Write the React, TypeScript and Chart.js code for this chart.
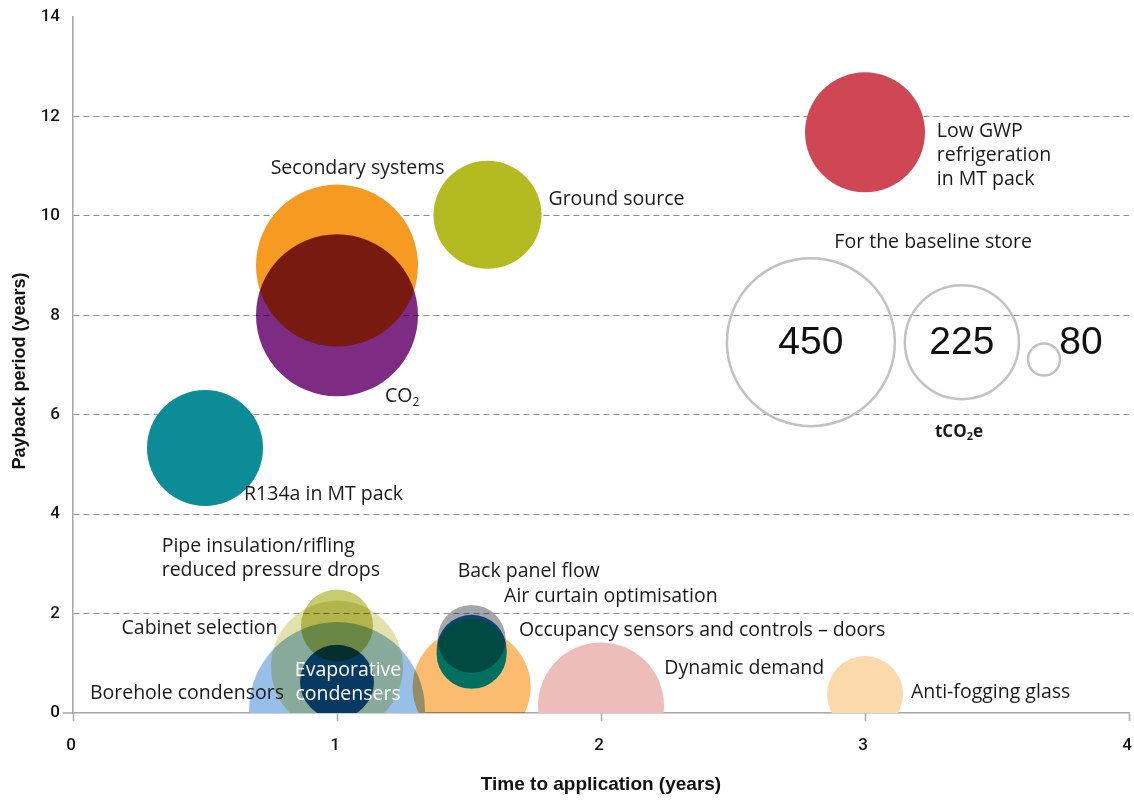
import React, { useEffect, useRef } from "react";
import { Chart, registerables } from "chart.js";

Chart.register(...registerables);

// ---------------- DATA ----------------
const measures = [
  "Low GWP refrigeration in MT pack",
  "Ground source",
  "Secondary systems",
  "CO₂",
  "R134a in MT pack",
  "Borehole condensors",
  "Cabinet selection",
  "Evaporative condensers",
  "Pipe insulation/rifling reduced pressure drops",
  "Occupancy sensors and controls – doors",
  "Air curtain optimisation",
  "Air curtain optimisation (2)",
  "Back panel flow",
  "Dynamic demand",
  "Anti-fogging glass",
];
// Time to application (years)
const timeToApplication = [3.0, 1.57, 1.0, 1.0, 0.5, 1.0, 1.0, 1.0, 1.0, 1.51, 1.51, 1.51, 1.51, 2.0, 3.0];
// Payback period (years)
const paybackPeriod = [11.68, 10.02, 9.0, 8.0, 5.33, 0.06, 0.93, 0.63, 1.76, 0.52, 1.27, 1.19, 1.49, 0.15, 0.38];
// Bubble size (tCO2e impact, drawn as radius)
const bubbleSize = [60, 54, 81, 81, 58, 88, 66, 37, 36, 59, 35, 35, 34, 63, 38];

// Baseline store reference bubbles
const baselineValues = ["450", "225", "80"];
const baselineX = [2.795, 3.367, 3.678];
const baselineY = [7.46, 7.46, 7.11];
const baselineSize = [84, 57, 16];

// Axis ticks
const xTicks = [0, 1, 2, 3, 4];
const yTicks = [0, 2, 4, 6, 8, 10, 12, 14];

// ---------------- STYLES ----------------
const fillColors = [
  "#cf4654", "#b3bb20", "#f69a21", "#7d2b83", "#0b8c97",
  "#98bfe7", "#e2e3aa", "#063a62", "#c9cb72",
  "#fbbc70", "#1466a3", "#007161", "#a3a6ab",
  "#edbeb9", "#fcd9ab",
];
const blendModes = [
  "source-over", "source-over", "source-over", "multiply", "source-over",
  "source-over", "multiply", "source-over", "multiply",
  "multiply", "source-over", "source-over", "multiply",
  "source-over", "source-over",
];

// Text annotations (anchors in data units)
const labelTexts: string[][] = [
  ["Low GWP", "refrigeration", "in MT pack"],
  ["Secondary systems"],
  ["Ground source"],
  ["CO₂"],
  ["R134a in MT pack"],
  ["Pipe insulation/rifling", "reduced pressure drops"],
  ["Cabinet selection"],
  ["Borehole condensors"],
  ["Evaporative", "condensers"],
  ["Back panel flow"],
  ["Air curtain optimisation"],
  ["Occupancy sensors and controls – doors"],
  ["Dynamic demand"],
  ["Anti-fogging glass"],
  ["For the baseline store"],
];
const labelX = [3.272, 1.078, 1.801, 1.182, 0.648, 0.336, 0.184, 0.064, 1.042, 1.457, 1.633, 1.689, 2.24, 3.174, 3.258];
const labelY = [11.7, 10.96, 10.33, 6.36, 4.4, 3.343, 1.703, 0.396, 0.864, 2.84, 2.352, 1.668, 0.898, 0.422, 9.47];
const labelAlign = ["left", "center", "left", "left", "left", "left", "left", "left", "center", "left", "left", "left", "left", "left", "center"];
const labelColor = ["#1a1a1a", "#1a1a1a", "#1a1a1a", "#1a1a1a", "#1a1a1a", "#1a1a1a", "#1a1a1a", "#1a1a1a", "#ffffff", "#1a1a1a", "#1a1a1a", "#1a1a1a", "#1a1a1a", "#1a1a1a", "#1a1a1a"];

const baselineLabelX = [2.795, 3.367, 3.818];
const unitLabel = "tCO₂e";
const unitLabelX = 3.356;
const unitLabelY = 5.654;

const LABEL_FONT = '"Open Sans", "DejaVu Sans", sans-serif';
const NUM_FONT = '"Liberation Sans", Arial, sans-serif';
const TICK_FONT = 'Roboto, "Liberation Sans", Arial, sans-serif';

function drawRich(ctx: CanvasRenderingContext2D, text: string, x: number, y: number, size: number, weight: string, family: string, align: string) {
  const parts = text.split("₂");
  const mainFont = `${weight} ${size}px ${family}`;
  const subSize = Math.round(size * 0.62);
  const subFont = `${weight} ${subSize}px ${family}`;
  const segs: { t: string; sub: boolean }[] = [];
  parts.forEach((p, i) => {
    if (p) segs.push({ t: p, sub: false });
    if (i < parts.length - 1) segs.push({ t: "2", sub: true });
  });
  let total = 0;
  const widths = segs.map((s) => {
    ctx.font = s.sub ? subFont : mainFont;
    const w = ctx.measureText(s.t).width;
    total += w;
    return w;
  });
  let cx = x;
  if (align === "center") cx = x - total / 2;
  else if (align === "right") cx = x - total;
  ctx.textAlign = "left";
  ctx.textBaseline = "middle";
  segs.forEach((s, i) => {
    ctx.font = s.sub ? subFont : mainFont;
    ctx.fillText(s.t, cx, s.sub ? y + size * 0.32 : y);
    cx += widths[i];
  });
}

const blendPlugin = {
  id: "blendPlugin",
  beforeDatasetDraw(chart: any, args: any) {
    const ds = chart.data.datasets[args.index];
    chart.ctx.globalCompositeOperation = ds.blend || "source-over";
  },
  afterDatasetDraw(chart: any) {
    chart.ctx.globalCompositeOperation = "source-over";
  },
};

const annotationPlugin = {
  id: "annotationPlugin",
  afterDraw(chart: any) {
    const { ctx, scales, chartArea } = chart;
    const xs = scales.x;
    const ys = scales.y;
    ctx.save();
    // small extension of x axis line to the left
    ctx.strokeStyle = "#a6a6a6";
    ctx.lineWidth = 1.5;
    ctx.beginPath();
    ctx.moveTo(chartArea.left - 10, chartArea.bottom);
    ctx.lineTo(chartArea.left, chartArea.bottom);
    ctx.stroke();

    labelTexts.forEach((lines, i) => {
      ctx.fillStyle = labelColor[i];
      const px = xs.getPixelForValue(labelX[i]);
      const py = ys.getPixelForValue(labelY[i]);
      lines.forEach((line, j) => {
        drawRich(ctx, line, px, py + j * 24, 19.5, "500", LABEL_FONT, labelAlign[i]);
      });
    });

    // baseline numbers
    ctx.fillStyle = "#111111";
    baselineValues.forEach((v, i) => {
      const px = xs.getPixelForValue(baselineLabelX[i]);
      const py = ys.getPixelForValue(baselineY[0]);
      ctx.font = `400 39px ${NUM_FONT}`;
      ctx.textAlign = "center";
      ctx.textBaseline = "middle";
      ctx.fillText(v, px, py + 1);
    });
    ctx.fillStyle = "#1a1a1a";
    drawRich(ctx, unitLabel, xs.getPixelForValue(unitLabelX), ys.getPixelForValue(unitLabelY), 17, "700", LABEL_FONT, "center");

    // axis titles
    ctx.fillStyle = "#111111";
    ctx.font = `700 19px ${NUM_FONT}`;
    ctx.textAlign = "center";
    ctx.textBaseline = "middle";
    ctx.fillText("Time to application (years)", (chartArea.left + chartArea.right) / 2, 785);
    ctx.save();
    ctx.translate(20, 371);
    ctx.rotate(-Math.PI / 2);
    ctx.font = `700 18px ${NUM_FONT}`;
    ctx.fillText("Payback period (years)", 0, 0);
    ctx.restore();
    ctx.restore();
  },
};

function zeroPad(s: any) {
  s.paddingLeft = 0;
  s.paddingRight = 0;
  s.paddingTop = 0;
  s.paddingBottom = 0;
}

export default function App() {
  const canvasRef = useRef<HTMLCanvasElement | null>(null);

  useEffect(() => {
    document.body.style.margin = "0";
    const canvas = canvasRef.current;
    if (!canvas) return;

    const n = measures.length;
    const datasets: any[] = measures.map((name, i) => ({
      label: name,
      data: [{ x: timeToApplication[i], y: paybackPeriod[i], r: bubbleSize[i] }],
      backgroundColor: fillColors[i],
      borderWidth: 0,
      blend: blendModes[i],
      order: n + 1 - i,
      clip: { left: false, top: false, right: false, bottom: 0 },
    }));
    datasets.push({
      label: "For the baseline store",
      data: baselineValues.map((_, i) => ({ x: baselineX[i], y: baselineY[i], r: baselineSize[i] })),
      backgroundColor: "rgba(0,0,0,0)",
      borderColor: "#c2c2c2",
      borderWidth: 2.5,
      order: 0,
      clip: false,
    });

    const chart = new Chart(canvas, {
      type: "bubble",
      data: { datasets },
      plugins: [blendPlugin, annotationPlugin],
      options: {
        animation: false,
        responsive: false,
        devicePixelRatio: 1,
        events: [],
        layout: { autoPadding: false, padding: { left: 0, top: 17, right: 5, bottom: 0 } },
        plugins: { legend: { display: false }, tooltip: { enabled: false } },
        scales: {
          x: {
            type: "linear",
            min: xTicks[0],
            max: xTicks[xTicks.length - 1],
            z: 1,
            afterBuildTicks: (s: any) => {
              s.ticks = xTicks.map((v) => ({ value: v }));
            },
            afterFit: (s: any) => {
              s.height = 87;
              zeroPad(s);
            },
            ticks: {
              color: "#151515",
              font: { family: TICK_FONT, size: 17, weight: "500" },
              padding: 15,
              labelOffset: -2,
              maxRotation: 0,
            },
            grid: {
              drawOnChartArea: false,
              drawTicks: true,
              tickLength: 8,
              tickColor: "#a6a6a6",
              tickWidth: 1.5,
              color: "#a6a6a6",
            },
            border: { color: "#a6a6a6", width: 1.5 },
          },
          y: {
            type: "linear",
            min: yTicks[0],
            max: yTicks[yTicks.length - 1],
            z: 1,
            afterBuildTicks: (s: any) => {
              s.ticks = yTicks.map((v) => ({ value: v }));
            },
            afterFit: (s: any) => {
              s.width = 73;
              zeroPad(s);
            },
            ticks: {
              color: "#151515",
              font: { family: TICK_FONT, size: 17, weight: "500" },
              padding: 13,
            },
            grid: {
              drawTicks: false,
              lineWidth: 1,
              color: (c: any) =>
                c.tick && (c.tick.value === yTicks[0] || c.tick.value === yTicks[yTicks.length - 1])
                  ? "rgba(0,0,0,0)"
                  : "#8c8c8c",
            },
            border: { color: "#a6a6a6", width: 1.5, dash: [6, 4] },
          },
        },
      } as any,
    });

    return () => chart.destroy();
  }, []);

  return (
    <div style={{ width: 1134, height: 800, background: "#ffffff" }}>
      <canvas ref={canvasRef} width={1134} height={800} style={{ display: "block" }} />
    </div>
  );
}
